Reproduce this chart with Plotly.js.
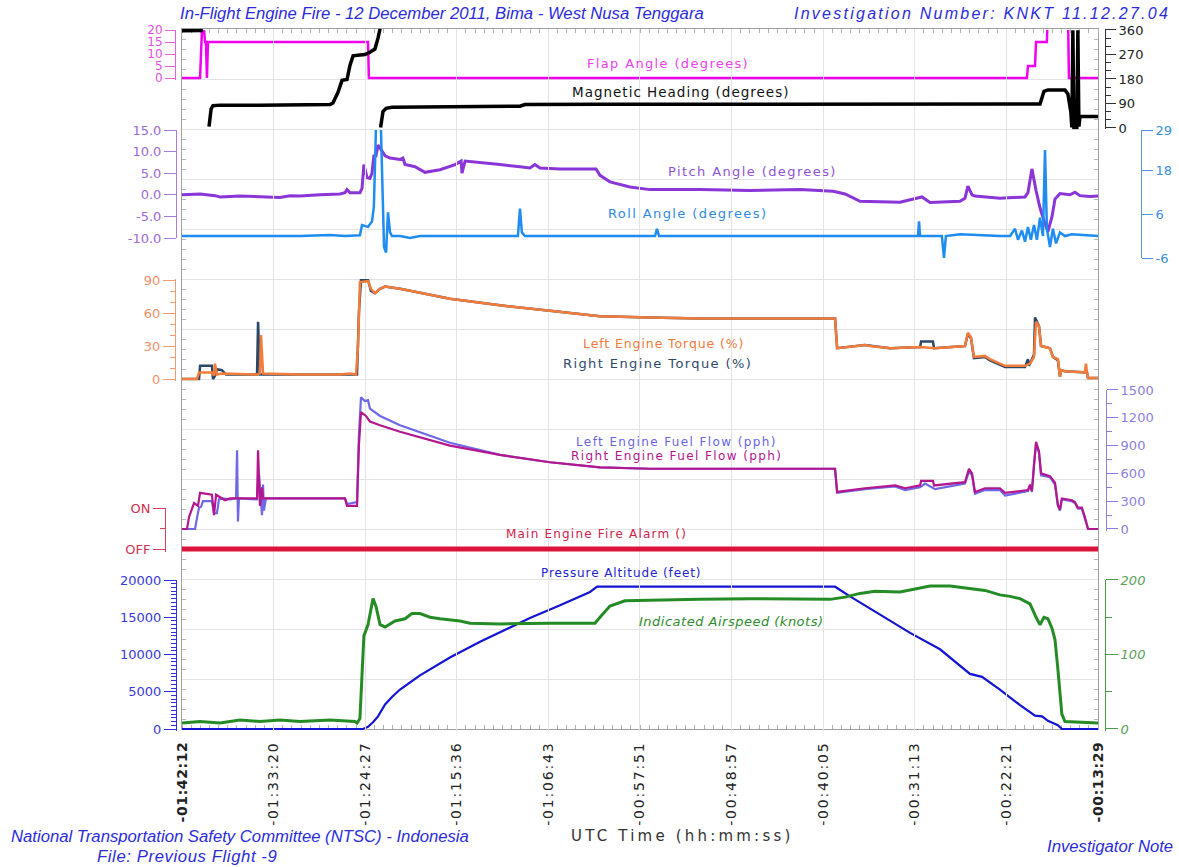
<!DOCTYPE html>
<html><head><meta charset="utf-8">
<script src="https://cdn.plot.ly/plotly-3.0.1.min.js"></script>
<style>html,body{margin:0;padding:0;background:#fff}#chart{width:1179px;height:867px}</style>
</head><body><div id="chart"></div>
<script>
// ---------- DATA ----------
const timeTickLabels = ['-01:42:12','-01:33:20','-01:24:27','-01:15:36','-01:06:43','-00:57:51','-00:48:57','-00:40:05','-00:31:13','-00:22:21','-00:13:29'];
const pitchTickVals = [-10, -5, 0, 5, 10, 15];
const pitchTickText = ['-10.0', '-5.0', '0.0', '5.0', '10.0', '15.0'];
const rollTickVals = [-6, 6, 18, 29];
const alarmTickText = ['OFF', 'ON'];

const flapTime = [-6132,-6027,-6016,-6004,-5998,-5993,-5987,-5981,-5051,-5046,-1222,-1216,-1175,-1169,-1106,-1100,-984,-978,-809];
const flapDeg  = [0,0,20,20,15,15,0,15,15,0,0,5,5,15,15,30,30,0,0];

const headingTime = [-6132,-6010,-6005,-5975,-5963,-5952,-5911,-5679,-5446,-5272,-5255,-5226,-5202,-5173,-5156,-5138,-5098,-5069,-5040,-5011,-4993,-4981,-4980,-4978,-4964,-4946,-4912,-4575,-4284,-4168,-4139,-3994,-3703,-3122,-2541,-1960,-1379,-1146,-1123,-1100,-1001,-984,-967,-961,-955,-949,-932,-926,-920,-914,-809];
const headingDeg  = [357,358,null,5,70,82,84,84,85,86,92,130,175,178,230,265,268,270,278,290,330,365,null,2,60,72,76,78,78,80,86,87,87,87,87,88,88,88,135,140,140,125,60,2,359,1,1,359,5,42,42];

const pitchTime = [-6132,-6027,-5940,-5911,-5795,-5679,-5563,-5504,-5446,-5330,-5214,-5185,-5173,-5156,-5098,-5086,-5075,-5057,-5040,-5028,-5017,-5005,-4993,-4976,-4952,-4923,-4865,-4848,-4836,-4778,-4720,-4633,-4545,-4510,-4505,-4487,-4400,-4284,-4168,-4110,-4081,-4052,-3935,-3726,-3703,-3645,-3529,-3412,-3122,-2831,-2541,-2348,-2279,-2192,-1960,-1832,-1785,-1611,-1582,-1565,-1541,-1524,-1379,-1233,-1216,-1193,-1169,-1146,-1123,-1100,-1076,-1059,-1030,-972,-943,-914,-856,-809];
const pitchDeg  = [0,0.2,-0.2,-0.5,-0.3,-0.5,-0.6,-0.2,-0.3,0,0.2,0.5,1.2,0.5,0.5,1.5,7,4,3.8,5,9,9,11.5,10.5,9,8.5,8.2,8.5,7,6.5,5.2,5.8,7,7.8,5,7.8,7.5,7,6.5,6.2,7,6.2,6,6,4.5,3,1.8,1.2,1.2,1.0,1.2,0.8,0.2,-1.5,-1.7,-0.5,-1.8,-1.5,-0.8,2,0,-0.3,-0.8,-0.5,0.5,6,1,-3,-6,-8.5,-5,-1,0.3,0,0.6,-0.2,-0.4,-0.3];

const rollTime = [-6132,-5446,-5272,-5185,-5098,-5086,-5051,-5028,-5017,-5005,-4976,-4964,-4958,-4946,-4935,-4923,-4912,-4865,-4807,-4749,-4180,-4168,-4157,-4139,-3383,-3372,-3360,-2308,-1855,-1849,-1843,-1716,-1704,-1693,-1611,-1379,-1320,-1291,-1274,-1251,-1233,-1216,-1199,-1181,-1164,-1146,-1129,-1117,-1106,-1088,-1071,-1053,-1030,-1001,-961,-809];
const rollDeg  = [0,0,0.3,0,0.2,3,2.5,4,8,29.5,29.5,10,-3,-4.5,6.5,1,0,0,-0.5,0,0,7.5,1,0,0,2,0,0,0,4,0,0,-6,0,0.5,0,0,2,-1,1.5,-1.5,2.5,-1,3,-1,5,0,23.5,2,-3,2,-2,1,0,0.5,0];

const torqueLeftTime = [-6132,-6045,-6033,-5958,-5946,-5940,-5929,-5900,-5696,-5679,-5673,-5661,-5446,-5214,-5156,-5121,-5109,-5098,-5051,-5034,-5011,-4981,-4952,-4865,-4575,-4284,-3994,-3703,-3412,-3122,-2337,-2325,-2163,-2134,-2017,-1843,-1756,-1582,-1565,-1547,-1530,-1466,-1437,-1349,-1233,-1204,-1181,-1169,-1152,-1140,-1088,-1071,-1042,-1030,-1024,-1001,-885,-879,-873,-867,-809];
const torqueLeftPct  = [0,0,6,6,3,14,4,5,4,5,40,5,4,4,5,4,30,88,89,82,78,82,84,82,73,67,62,57,56,55,55,28,31,30,28,29,28,30,42,38,20,21,18,12,12,14,20,52,48,30,28,20,18,2,8,7,6,14,6,1,1];

const torqueRightTime = [-6132,-6033,-6027,-5958,-5952,-5940,-5929,-5900,-5876,-5696,-5690,-5679,-5446,-5115,-5104,-5092,-5051,-5034,-5011,-4981,-4952,-4865,-4575,-4284,-3994,-3703,-3412,-3122,-2337,-2325,-2163,-2017,-1843,-1837,-1768,-1762,-1582,-1565,-1547,-1530,-1466,-1437,-1349,-1233,-1216,-1210,-1204,-1181,-1175,-1152,-1140,-1088,-1071,-1042,-1030,-1024,-1001,-885,-873,-867,-809];
const torqueRightPct  = [0,0,12,12,0,3,9,8,4,4,52,4,4,4,60,90,90,80,78,82,84,82,73,67,62,57,56,55,55,28,31,28,29,34,34,28,30,41,37,19,20,17,11,11,18,12,14,22,56,48,30,28,20,17,2,8,7,6,6,1,1];

const fuelLeftTime = [-6132,-6056,-6045,-6033,-6021,-6010,-5958,-5946,-5929,-5917,-5900,-5853,-5818,-5812,-5807,-5801,-5696,-5685,-5667,-5661,-5656,-5644,-5446,-5185,-5173,-5115,-5104,-5092,-5069,-5051,-5040,-4981,-4865,-4575,-4284,-3994,-3703,-3412,-2337,-2325,-2163,-1988,-1930,-1843,-1814,-1756,-1582,-1559,-1541,-1524,-1466,-1379,-1349,-1216,-1204,-1193,-1181,-1169,-1152,-1140,-1088,-1059,-1042,-1030,-1019,-961,-943,-926,-903,-885,-867,-809];
const fuelLeftPph  = [0,0,120,230,240,300,300,170,170,320,330,320,330,850,80,330,320,600,150,480,200,330,330,330,270,290,1000,1420,1380,1390,1300,1220,1120,930,800,720,665,650,650,390,430,460,420,450,490,430,490,620,580,380,420,420,360,410,470,400,700,920,820,580,560,480,250,200,320,300,280,220,220,120,0,0];

const fuelRightTime = [-6132,-6103,-6091,-6074,-6062,-6039,-6027,-5958,-5946,-5934,-5911,-5882,-5853,-5696,-5690,-5679,-5667,-5661,-5185,-5173,-5115,-5104,-5092,-5063,-5040,-4981,-4865,-4575,-4284,-3994,-3703,-3412,-2337,-2325,-2163,-1988,-1930,-1843,-1837,-1768,-1762,-1582,-1559,-1541,-1524,-1466,-1379,-1349,-1216,-1204,-1193,-1181,-1169,-1152,-1140,-1088,-1059,-1042,-1030,-1019,-961,-943,-926,-903,-885,-867,-809];
const fuelRightPph  = [0,0,130,210,280,250,390,370,150,370,340,310,330,330,850,250,450,330,330,250,250,900,1260,1220,1160,1120,1050,900,800,720,665,650,650,400,440,470,440,470,520,520,470,505,650,600,400,440,440,390,420,480,410,720,940,840,600,570,500,260,210,330,310,290,230,230,130,0,0];

const alarmTime  = [-6132,-809];
const alarmState = [0,0];

const altTime = [-6132,-5080,-5051,-5022,-4993,-4952,-4912,-4865,-4749,-4575,-4400,-4284,-4110,-3935,-3761,-3720,-2337,-2250,-2076,-1901,-1727,-1553,-1483,-1379,-1262,-1175,-1134,-1100,-1042,-1019,-809];
const altFeet = [0,0,300,900,1700,3300,4300,5300,7200,9600,11700,13000,14900,16600,18400,19100,19100,17800,15300,12900,10700,7400,7000,5300,3200,1800,1700,1100,500,0,0];

const iasTime = [-6132,-6027,-5911,-5795,-5679,-5563,-5446,-5272,-5127,-5115,-5098,-5086,-5075,-5051,-5022,-5005,-4981,-4952,-4894,-4836,-4796,-4749,-4691,-4633,-4516,-4458,-4284,-3994,-3732,-3703,-3645,-3558,-3412,-3122,-2831,-2541,-2366,-2279,-2192,-2105,-1960,-1872,-1785,-1669,-1553,-1466,-1379,-1320,-1262,-1204,-1169,-1146,-1123,-1100,-1076,-1059,-1042,-1019,-1001,-809];
const iasKnots = [8,10,8,12,10,12,10,12,10,8,14,80,125,140,175,165,140,137,145,148,155,155,150,148,145,142,141,142,142,150,165,172,173,174,175,174,174,177,182,185,184,188,192,192,189,186,180,178,175,168,150,140,150,148,135,120,80,20,10,8];

// ---------- LAYOUT HELPERS ----------
const W = 1179, H = 867;
const fx = p => p / W;
const fy = p => 1 - p / H;
function dom(v0, p0, v1, p1, lo, hi) {
  const s = (p1 - p0) / (v1 - v0);
  return [fy(p0 + (lo - v0) * s), fy(p0 + (hi - v0) * s)];
}
function hms(s) {
  const neg = s[0] === '-';
  const p = s.replace('-', '').split(':').map(Number);
  const v = p[0] * 3600 + p[1] * 60 + p[2];
  return neg ? -v : v;
}
const sp = (t, px) => '<span style="letter-spacing:' + px + 'px">' + t + '</span>';
const tickVals = timeTickLabels.map(hms);
const tickText = timeTickLabels.map((t, i) =>
  (i === 0 || i === timeTickLabels.length - 1) ? sp('<b>' + t + '</b>', 0.6) : sp(t, 1.8));

const F = 'DejaVu Sans, Verdana, sans-serif';
const A = 'Liberation Sans, Arial, sans-serif';

function yax(o) {
  return Object.assign({
    anchor: 'free', showgrid: false, zeroline: false, showline: true,
    ticks: 'outside', ticklen: 11, tickwidth: 1, linewidth: 1,
    fixedrange: true, automargin: false, tickfont: {family: F, size: 13}
  }, o);
}

function line(x, y, yaxis, color, width) {
  return {x: x, y: y, xaxis: 'x', yaxis: yaxis, type: 'scatter', mode: 'lines',
          line: {color: color, width: width, shape: 'linear'}, hoverinfo: 'skip', connectgaps: false};
}

const traces = [
  {x: [tickVals[0]], y: [0], xaxis: 'x', yaxis: 'y', mode: 'markers', marker: {opacity: 0}, hoverinfo: 'skip'},
  line(flapTime, flapDeg, 'y2', '#f000f0', 2.5),
  line(headingTime, headingDeg, 'y3', '#000000', 3.5),
  line(rollTime, rollDeg, 'y5', '#1e8cf0', 2.5),
  line(pitchTime, pitchDeg, 'y4', '#8a35d8', 3),
  line(torqueRightTime, torqueRightPct, 'y6', '#2a4868', 2.5),
  line(torqueLeftTime, torqueLeftPct, 'y6', '#f47c3a', 2.5),
  line(fuelLeftTime, fuelLeftPph, 'y7', '#6f68e6', 2.2),
  line(fuelRightTime, fuelRightPph, 'y7', '#b4168f', 2.2),
  line(alarmTime, alarmState, 'y8', '#dc143c', 5),
  line(altTime, altFeet, 'y9', '#1414d2', 2.2),
  line(iasTime, iasKnots, 'y10', '#258c25', 3)
];

const gridC = '#e3e3e3';
const layout = {
  width: W, height: H,
  margin: {l: 0, r: 0, t: 0, b: 0, pad: 0},
  paper_bgcolor: '#ffffff', plot_bgcolor: 'rgba(0,0,0,0)',
  showlegend: false, hovermode: false,
  xaxis: {
    domain: [fx(182), fx(1098)], range: [tickVals[0], tickVals[tickVals.length - 1]],
    anchor: 'y', tickmode: 'array', tickvals: tickVals, ticktext: tickText,
    tickangle: -90, ticks: 'outside', ticklen: 6, tickcolor: 'rgba(0,0,0,0)',
    tickfont: {family: F, size: 14, color: '#222'},
    showgrid: true, gridcolor: gridC, gridwidth: 1, zeroline: false,
    showline: true, linecolor: '#a0a0a0', linewidth: 1, mirror: 'ticks',
    minor: {tickmode: 'linear', tick0: tickVals[0], dtick: (tickVals[10] - tickVals[0]) / 100,
            ticks: 'inside', ticklen: 4, tickcolor: '#b0b0b0', showgrid: false},
    fixedrange: true, automargin: false
  },
  yaxis: {
    domain: [fy(729), fy(29)], range: [0, 14], anchor: 'x', dtick: 1, tick0: 0,
    showgrid: true, gridcolor: gridC, showticklabels: false, zeroline: false,
    showline: true, linecolor: '#a0a0a0', mirror: 'ticks', ticks: '',
    minor: {dtick: 0.2, tick0: 0, ticks: 'inside', ticklen: 4, tickcolor: '#b8b8b8', showgrid: false},
    fixedrange: true, automargin: false
  },
  yaxis2: yax({domain: dom(0, 78, 20, 30, -1, 20), range: [-1, 20], position: fx(175), side: 'left',
    tickmode: 'linear', tick0: 0, dtick: 5, ticklen: 10,
    linecolor: '#e060e0', tickcolor: '#e060e0', tickfont: {family: F, size: 12, color: '#e04ee0'}}),
  yaxis3: yax({domain: dom(0, 128, 360, 30, -5, 365), range: [-5, 365], position: fx(1105), side: 'right',
    tickmode: 'linear', tick0: 0, dtick: 90, ticklen: 10,
    linecolor: '#333', tickcolor: '#333', tickfont: {family: F, size: 13, color: '#222'},
    minor: {tickmode: 'linear', tick0: 0, dtick: 30, ticks: 'outside', ticklen: 5, tickcolor: '#333'}}),
  yaxis4: yax({domain: dom(-10, 238, 15, 130, -10, 15), range: [-10, 15], position: fx(176), side: 'left',
    tickmode: 'array', tickvals: pitchTickVals, ticktext: pitchTickText, ticklen: 12,
    linecolor: '#a67ddb', tickcolor: '#a67ddb', tickfont: {family: F, size: 13, color: '#9a6ad6'}}),
  yaxis5: yax({domain: dom(-6, 258, 29, 130, -6, 29), range: [-6, 29], position: fx(1141), side: 'right',
    tickmode: 'array', tickvals: rollTickVals, ticktext: rollTickVals.map(String), ticklen: 11,
    linecolor: '#4a96e0', tickcolor: '#4a96e0', tickfont: {family: F, size: 13, color: '#3a8ee0'}}),
  yaxis6: yax({domain: dom(0, 379, 90, 280, -1.5, 91), range: [-1.5, 91], position: fx(175), side: 'left',
    tickmode: 'linear', tick0: 0, dtick: 30, ticklen: 12,
    linecolor: '#f29a70', tickcolor: '#f29a70', tickfont: {family: F, size: 13, color: '#f09068'},
    minor: {tickmode: 'linear', tick0: 0, dtick: 10, ticks: 'outside', ticklen: 5, tickcolor: '#f29a70'}}),
  yaxis7: yax({domain: dom(0, 529, 1500, 390, -20, 1501), range: [-20, 1501], position: fx(1106), side: 'right',
    tickmode: 'linear', tick0: 0, dtick: 300, ticklen: 11, tickformat: 'd',
    linecolor: '#8a80dc', tickcolor: '#8a80dc', tickfont: {family: F, size: 13, color: '#8a7fdc'},
    minor: {tickmode: 'linear', tick0: 0, dtick: 150, ticks: 'outside', ticklen: 5, tickcolor: '#8a80dc'}}),
  yaxis8: yax({domain: dom(0, 549, 1, 508, -0.08, 1), range: [-0.08, 1], position: fx(165), side: 'left',
    tickmode: 'array', tickvals: [0, 1], ticktext: alarmTickText, ticklen: 12,
    linecolor: '#d8405a', tickcolor: '#d8405a', tickfont: {family: F, size: 13, color: '#d03050'},
    minor: {tickmode: 'array', tickvals: [0.5], ticks: 'outside', ticklen: 5, tickcolor: '#d8405a'}}),
  yaxis9: yax({domain: dom(0, 729, 20000, 580, -300, 20001), range: [-300, 20001], position: fx(176), side: 'left',
    tickmode: 'linear', tick0: 0, dtick: 5000, tickformat: 'd', ticklen: 12,
    linecolor: '#3030d8', tickcolor: '#3030d8', tickfont: {family: F, size: 13, color: '#3a3ad8'},
    minor: {tickmode: 'linear', tick0: 0, dtick: 500, ticks: 'outside', ticklen: 5, tickcolor: '#3030d8'}}),
  yaxis10: yax({domain: dom(0, 729, 200, 580, -3, 200.5), range: [-3, 200.5], position: fx(1105), side: 'right',
    tickmode: 'linear', tick0: 0, dtick: 100, ticklen: 12, tickformat: 'd',
    linecolor: '#4a9a4a', tickcolor: '#4a9a4a', tickfont: {family: F, size: 13, color: '#5a9e5a', style: 'italic'},
    minor: {tickmode: 'linear', tick0: 0, dtick: 50, ticks: 'outside', ticklen: 6, tickcolor: '#4a9a4a'}}),
  annotations: []
};

function note(text, px, py, font, opts) {
  layout.annotations.push(Object.assign({
    text: text, x: fx(px), y: fy(py), xref: 'paper', yref: 'paper',
    xanchor: 'center', yanchor: 'middle', showarrow: false, font: font
  }, opts || {}));
}
const df = (size, color, style) => ({family: F, size: size, color: color, style: style || 'normal'});
const af = (size) => ({family: A, size: size, color: '#2b2bdb', style: 'italic'});

note(sp('Flap Angle (degrees)', 1.35), 668, 63, df(13, '#f040f0'));
note(sp('Magnetic Heading (degrees)', 1.0), 680, 92, df(13.5, '#111111'));
note(sp('Pitch Angle (degrees)', 1.4), 752, 171, df(13, '#8f52d6'));
note(sp('Roll Angle (degrees)', 1.4), 687, 213, df(13, '#2f8ae2'));
note(sp('Left Engine Torque (%)', 0.9), 663, 344, df(12.5, '#f07a3a'));
note(sp('Right Engine Torque (%)', 1.4), 657, 363, df(13, '#2d4a6a'));
note(sp('Left Engine Fuel Flow (pph)', 1.4), 676, 442, df(12, '#6a64e0'));
note(sp('Right Engine Fuel Flow (pph)', 1.4), 676, 456, df(12, '#b0168e'));
note(sp('Main Engine Fire Alarm ()', 1.2), 596, 534, df(12, '#d0204a'));
note(sp('Pressure Altitude (feet)', 0.9), 621, 573, df(12, '#2222cc'));
note(sp('Indicated Airspeed (knots)', 0.5), 731, 621, df(13, '#2e8b2e', 'italic'));
note('In-Flight Engine Fire - 12 December 2011, Bima - West Nusa Tenggara', 178, 13, af(16.7), {xanchor: 'left'});
note(sp('Investigation Number: KNKT 11.12.27.04', 2.25), 1172, 14, af(16), {xanchor: 'right'});
note('National Transportation Safety Committee (NTSC) - Indonesia', 240, 836, af(16.7));
note(sp('File: Previous Flight -9', 0.6), 187, 856, af(16.7));
note(sp('UTC Time (hh:mm:ss)', 3.2), 682, 836, df(15, '#333333'));
note('Investigator Note', 1175, 846, af(16.7), {xanchor: 'right'});

Plotly.newPlot('chart', traces, layout, {staticPlot: true, displayModeBar: false});
</script>
</body></html>
